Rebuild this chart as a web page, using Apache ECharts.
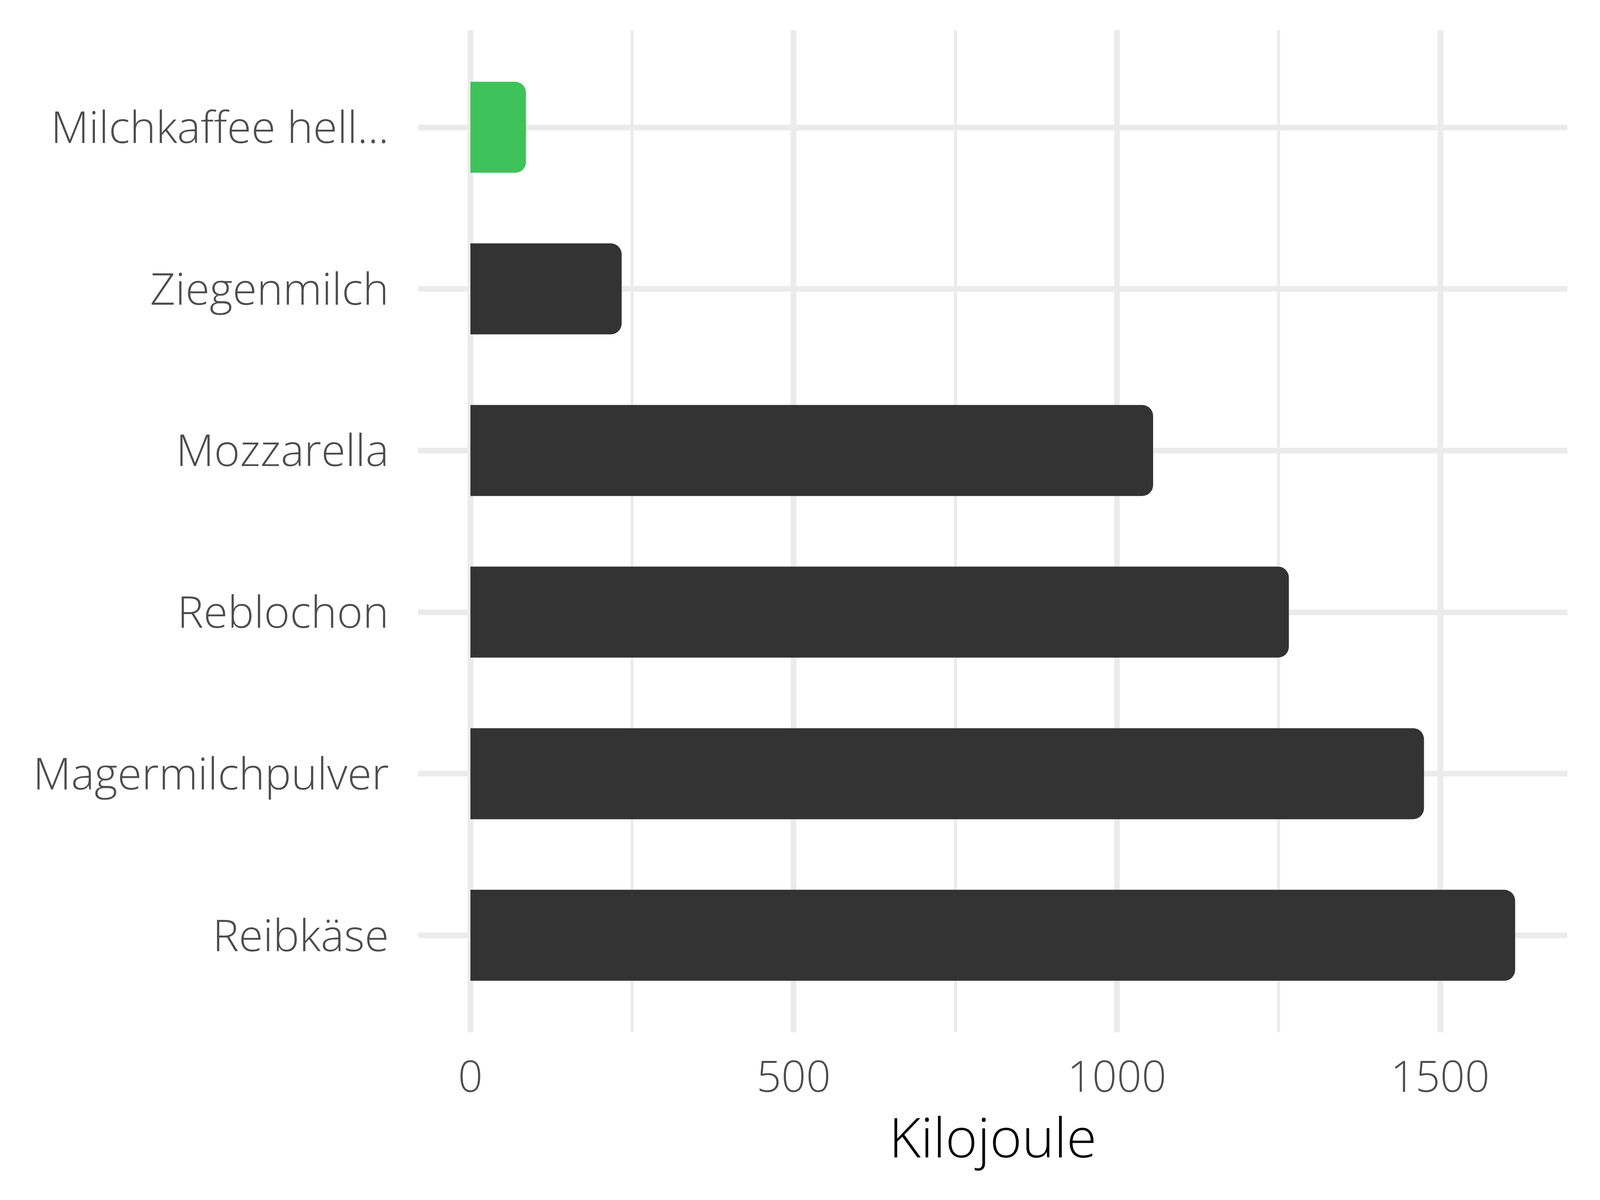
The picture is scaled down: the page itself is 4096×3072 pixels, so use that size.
<!DOCTYPE html>
<html>
<head>
<meta charset="utf-8">
<script src="https://cdn.jsdelivr.net/npm/echarts@6/dist/echarts.min.js"></script>
<style>
html,body{margin:0;padding:0;background:#fff;}
#chart{width:4096px;height:3072px;}
</style>
</head>
<body>
<div id="chart"></div>
<script>
const categories = ['Milchkaffee hell...', 'Ziegenmilch', 'Mozzarella', 'Reblochon', 'Magermilchpulver', 'Reibkäse'];
const kilojoule = [86, 234, 1056, 1266, 1475, 1616];
const highlightCategory = 'Milchkaffee hell...';
const xTickLabels = [0, 500, 1000, 1500];
const xMinorTicks = [250, 750, 1250];
const axisTitle = 'Kilojoule';

const FONT = '"Open Sans", "Noto Sans", sans-serif';
const GRID_COLOR = '#EBEBEB';
const X_MIN = -80.8, X_MAX = 1696.8;

const chart = echarts.init(document.getElementById('chart'), null, {renderer: 'canvas'});

const vLines = xTickLabels.map(v => ({xAxis: v, lineStyle: {width: 14.5}}))
  .concat(xMinorTicks.map(v => ({xAxis: v, lineStyle: {width: 7.7}})));
const hLines = categories.map(c => ({yAxis: c}));

chart.setOption({
  backgroundColor: '#ffffff',
  animation: false,
  grid: [
    {left: 1070.5, right: 83.5, top: 119, bottom: 470.8},
    {left: 1070.5, right: 83.5, top: 77.6, bottom: 429.4}
  ],
  xAxis: [
    {gridIndex: 0, type: 'value', min: X_MIN, max: X_MAX, show: false, splitLine: {show: false}},
    {gridIndex: 1, type: 'value', min: X_MIN, max: X_MAX,
     axisLine: {show: false}, axisTick: {show: false}, splitLine: {show: false},
     axisLabel: {customValues: xTickLabels, formatter: v => String(v), color: '#4D4D4D', fontFamily: FONT, fontWeight: 300, fontSize: 111, margin: 121, verticalAlign: 'middle'},
     name: axisTitle, nameLocation: 'middle', nameGap: 281,
     nameTextStyle: {color: '#000000', fontFamily: FONT, fontWeight: 300, fontSize: 140, verticalAlign: 'middle'}
    }
  ],
  yAxis: [
    {gridIndex: 0, type: 'category', data: categories, inverse: true,
     axisLine: {show: false}, axisTick: {show: false}, splitLine: {show: false},
     axisLabel: {margin: 75, formatter: v => '{a|' + v + '}',
       rich: {a: {color: '#4D4D4D', fontFamily: FONT, fontWeight: 300, fontSize: 113, padding: [16, 0, 0, 0]}}}
    },
    {gridIndex: 1, type: 'value', min: 0, max: 1, show: false, splitLine: {show: false}}
  ],
  series: [
    {
      type: 'scatter', xAxisIndex: 1, yAxisIndex: 1, data: [], z: 0, silent: true,
      markLine: {z: 1, silent: true, symbol: 'none', label: {show: false},
        lineStyle: {type: 'solid', color: GRID_COLOR}, emphasis: {disabled: true}, data: vLines}
    },
    {
      type: 'bar', xAxisIndex: 0, yAxisIndex: 0, data: kilojoule, z: 2,
      barWidth: 233,
      itemStyle: {
        borderRadius: [0, 28, 28, 0],
        color: p => categories[p.dataIndex] === highlightCategory ? '#3EC35A' : '#333333'
      },
      markLine: {z: 1, silent: true, symbol: 'none', label: {show: false},
        lineStyle: {type: 'solid', color: GRID_COLOR, width: 14.5}, emphasis: {disabled: true}, data: hLines}
    }
  ]
});
</script>
</body>
</html>
